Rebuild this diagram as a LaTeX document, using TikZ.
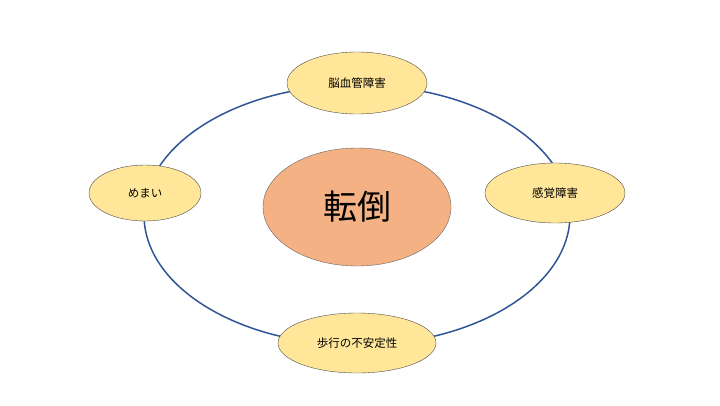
\documentclass[tikz,border=0pt]{standalone}
\usepackage{fontspec}
\setmainfont{Noto Sans CJK JP}
\usetikzlibrary{shapes.geometric,positioning}
\definecolor{ringblue}{HTML}{2F5597}
\definecolor{causefill}{HTML}{FFE699}
\definecolor{mainfill}{HTML}{F4B183}
\tikzset{
  cause/.style={ellipse,draw=black!70,fill=causefill,font=\fontsize{11.5}{13}\selectfont,inner sep=0pt},
  fall/.style={ellipse,draw=black!60,fill=mainfill,font=\fontsize{34}{40}\selectfont,inner sep=0pt}
}
\begin{document}
\begin{tikzpicture}[x=1pt,y=-1pt]
\useasboundingbox (0,0) rectangle (720,405);
%
\draw[ringblue,line width=1.5pt] (357,215) ellipse (213 and 130);
%
\node[fall,minimum width=188pt,minimum height=118pt] (fall) at (357,207) {転倒};
\node[cause,minimum width=140pt,minimum height=62pt] (brain) at (357,83) {脳血管障害};
\node[cause,minimum width=112pt,minimum height=56pt] (dizzy) at (145,193) {めまい};
\node[cause,minimum width=140pt,minimum height=60pt] (sense) at (555,193) {感覚障害};
\node[cause,minimum width=158pt,minimum height=60pt] (gait) at (357,343) {歩行の不安定性};
\end{tikzpicture}
\end{document}
